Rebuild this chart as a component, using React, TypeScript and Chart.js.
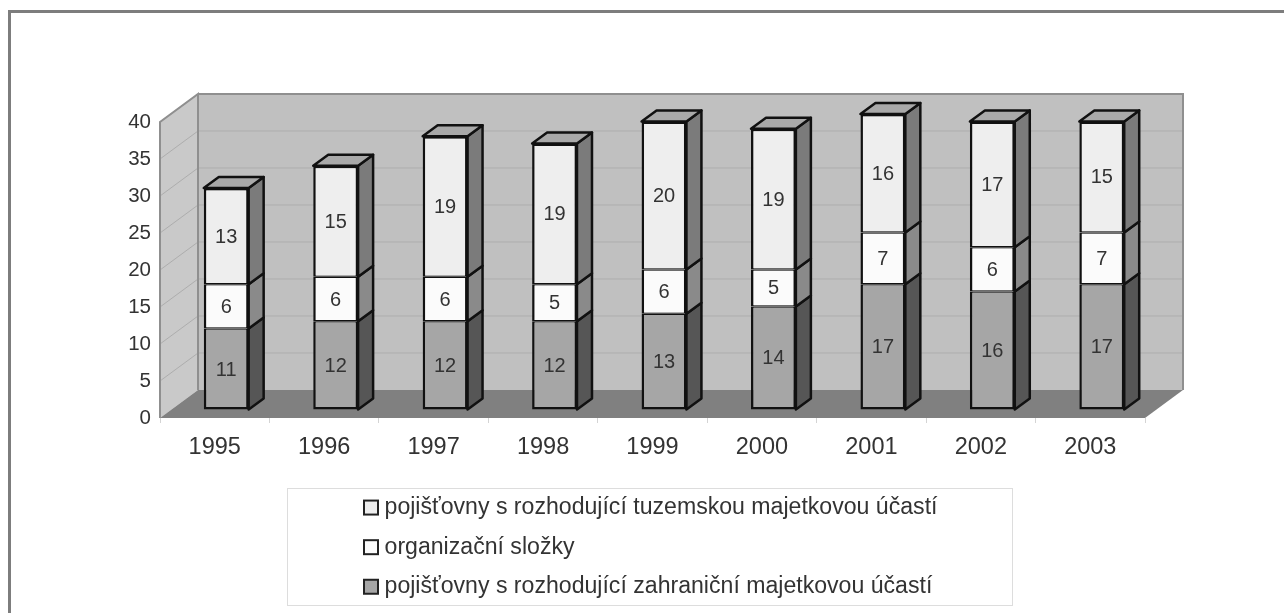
import React, { useEffect, useRef } from "react";
import { Chart, registerables } from "chart.js";

Chart.register(...registerables);

const years = ["1995", "1996", "1997", "1998", "1999", "2000", "2001", "2002", "2003"];
const foreign = [11, 12, 12, 12, 13, 14, 17, 16, 17];
const branches = [6, 6, 6, 5, 6, 5, 7, 6, 7];
const domestic = [13, 15, 19, 19, 20, 19, 16, 17, 15];
const seriesNames = [
  "pojišťovny s rozhodující zahraniční majetkovou účastí",
  "organizační složky",
  "pojišťovny s rozhodující tuzemskou majetkovou účastí",
];
const frontColors = ["#a6a6a6", "#fbfbfb", "#eeeeee"];
const sideColors = ["#565656", "#8a8a8a", "#7b7b7b"];

const FONT = "'Liberation Sans', Arial, sans-serif";
const TEXT = "#333333";
const DEPTH_X = 38, DEPTH_Y = 28;      // box depth
const SHIFT_X = 11.5, SHIFT_Y = 8;     // bars stand inside the floor
const BAR_DX = 15, BAR_DY = 11;        // bar depth

function marker(fill: string) {
  const c = document.createElement("canvas");
  c.width = 18; c.height = 18;
  const g = c.getContext("2d")!;
  g.fillStyle = fill; g.strokeStyle = "#222"; g.lineWidth = 2;
  g.fillRect(2, 2, 14, 14); g.strokeRect(2, 2, 14, 14);
  return c;
}

const box3d = {
  id: "box3d",
  beforeDraw(chart: any) {
    const { ctx, chartArea: a, scales } = chart;
    const { left: l, right: r, top: t, bottom: b } = a;
    ctx.save();
    // outer frame
    ctx.strokeStyle = "#7d7d7d"; ctx.lineWidth = 3;
    ctx.beginPath(); ctx.moveTo(9.5, 613); ctx.lineTo(9.5, 11.5); ctx.lineTo(1284, 11.5); ctx.stroke();
    // legend frame
    ctx.strokeStyle = "#dddddd"; ctx.lineWidth = 1;
    ctx.strokeRect(287.5, 488.5, 725, 117);
    // back wall
    ctx.fillStyle = "#c0c0c0";
    ctx.fillRect(l + DEPTH_X, t - DEPTH_Y, r - l, b - t);
    // side wall
    ctx.fillStyle = "#c9c9c9";
    ctx.beginPath();
    ctx.moveTo(l, t); ctx.lineTo(l + DEPTH_X, t - DEPTH_Y); ctx.lineTo(l + DEPTH_X, b - DEPTH_Y); ctx.lineTo(l, b);
    ctx.closePath(); ctx.fill();
    // grid lines on both walls
    ctx.strokeStyle = "#adadad"; ctx.lineWidth = 1;
    for (const tick of scales.y.ticks) {
      if (tick.value === 0) continue;
      const y = scales.y.getPixelForValue(tick.value);
      ctx.beginPath();
      ctx.moveTo(l, y); ctx.lineTo(l + DEPTH_X, y - DEPTH_Y); ctx.lineTo(r + DEPTH_X, y - DEPTH_Y);
      ctx.stroke();
    }
    // floor
    ctx.fillStyle = "#808080";
    ctx.beginPath();
    ctx.moveTo(l, b); ctx.lineTo(l + DEPTH_X, b - DEPTH_Y); ctx.lineTo(r + DEPTH_X, b - DEPTH_Y); ctx.lineTo(r, b);
    ctx.closePath(); ctx.fill();
    // wall outlines
    ctx.strokeStyle = "#8f8f8f"; ctx.lineWidth = 2;
    ctx.beginPath();
    ctx.moveTo(l, b); ctx.lineTo(l, t); ctx.lineTo(l + DEPTH_X, t - DEPTH_Y); ctx.lineTo(l + DEPTH_X, b - DEPTH_Y);
    ctx.moveTo(l + DEPTH_X, t - DEPTH_Y); ctx.lineTo(r + DEPTH_X, t - DEPTH_Y); ctx.lineTo(r + DEPTH_X, b - DEPTH_Y);
    ctx.stroke();
    ctx.restore();
  },
  beforeDatasetsDraw(chart: any) {
    chart.ctx.save();
    chart.ctx.translate(SHIFT_X, -SHIFT_Y);
  },
  afterDatasetsDraw(chart: any) {
    const { ctx, data } = chart;
    const last = data.datasets.length - 1;
    ctx.strokeStyle = "#111"; ctx.lineWidth = 2.5; ctx.lineJoin = "round";
    data.datasets.forEach((ds: any, i: number) => {
      chart.getDatasetMeta(i).data.forEach((bar: any, j: number) => {
        const { x, y, base, width } = bar.getProps(["x", "y", "base", "width"], true);
        const x0 = x - width / 2, x1 = x + width / 2;
        ctx.fillStyle = sideColors[i];
        ctx.beginPath();
        ctx.moveTo(x1, y); ctx.lineTo(x1 + BAR_DX, y - BAR_DY); ctx.lineTo(x1 + BAR_DX, base - BAR_DY); ctx.lineTo(x1, base);
        ctx.closePath(); ctx.fill(); ctx.stroke();
        if (i === last) {
          ctx.fillStyle = "#a9a9a9";
          ctx.beginPath();
          ctx.moveTo(x0, y); ctx.lineTo(x0 + BAR_DX, y - BAR_DY); ctx.lineTo(x1 + BAR_DX, y - BAR_DY); ctx.lineTo(x1, y);
          ctx.closePath(); ctx.fill(); ctx.stroke();
        }
        ctx.fillStyle = TEXT;
        ctx.font = `20px ${FONT}`;
        ctx.textAlign = "center"; ctx.textBaseline = "middle";
        ctx.fillText(String(ds.data[j]), x, (y + base) / 2 + 1);
      });
    });
    ctx.restore();
  },
  afterLayout(chart: any) {
    const lg = chart.legend;
    const p = lg.options.labels.padding;
    lg.left = 369 - p; lg.right = 1012;
    lg.top = 496 - p; lg.bottom = 640;
    lg.adjustHitBoxes();
  },
};

export default function App() {
  const ref = useRef<HTMLCanvasElement>(null);
  useEffect(() => {
    const chart = new Chart(ref.current!, {
      type: "bar",
      data: {
        labels: years,
        datasets: [foreign, branches, domestic].map((values, i) => ({
          label: seriesNames[i],
          data: values,
          backgroundColor: frontColors[i],
          borderColor: "#111",
          borderWidth: { left: 2.5, right: 2.5, top: i === 2 ? 2.5 : 1.25, bottom: i === 0 ? 2.5 : 1.25 },
          borderSkipped: false,
          barPercentage: 0.41,
          categoryPercentage: 1,
          clip: false,
        })),
      } as any,
      options: {
        responsive: false,
        animation: false,
        layout: { padding: { top: 122, right: 139, left: 0, bottom: 0 } },
        scales: {
          x: {
            stacked: true,
            afterFit: (s: any) => { s.height = 195; },
            border: { display: false },
            grid: { drawOnChartArea: false, color: "#d4d4d4", tickLength: 5 },
            ticks: { color: TEXT, font: { family: FONT, size: 23.5 }, padding: 10, maxRotation: 0 },
          },
          y: {
            stacked: true, min: 0, max: 40,
            afterFit: (s: any) => { s.width = 160; },
            border: { display: false },
            grid: { drawOnChartArea: false, drawTicks: false },
            ticks: { stepSize: 5, color: TEXT, font: { family: FONT, size: 20.5 }, padding: 9 },
          },
        },
        plugins: {
          tooltip: { enabled: false },
          legend: {
            position: "chartArea",
            align: "start",
            reverse: true,
            labels: {
              color: TEXT,
              font: { family: FONT, size: 23.1 },
              padding: 16.5,
              usePointStyle: true,
              pointStyleWidth: 4,
              generateLabels: (c: any) =>
                Chart.defaults.plugins.legend.labels.generateLabels(c).map((it: any, i: number) => ({
                  ...it,
                  pointStyle: marker(frontColors[i]),
                })),
            },
          },
        },
      } as any,
      plugins: [box3d],
    });
    return () => chart.destroy();
  }, []);
  return (
    <canvas
      ref={ref}
      width={1284}
      height={613}
      style={{ position: "absolute", left: 0, top: 0, width: 1284, height: 613, filter: "blur(0.6px)" }}
    />
  );
}
